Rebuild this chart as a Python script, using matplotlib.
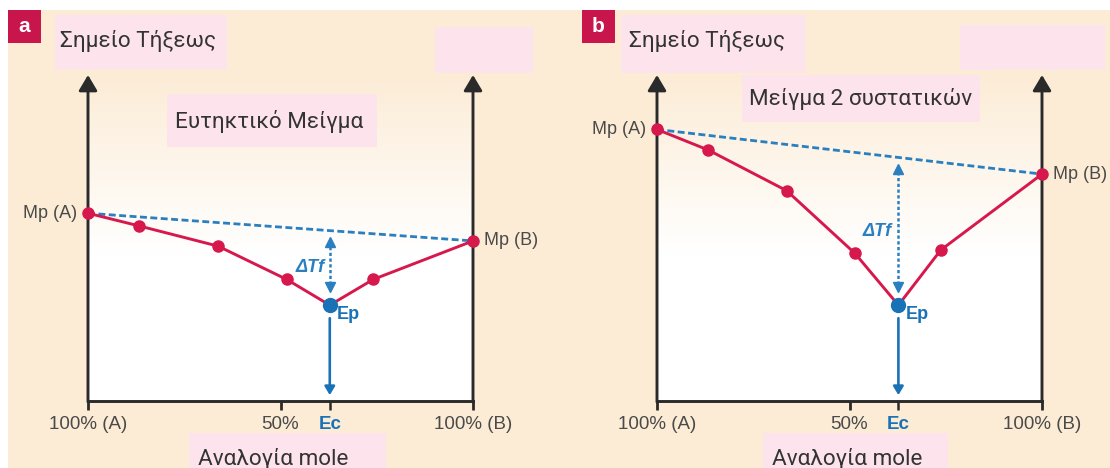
import matplotlib
matplotlib.use("Agg")
import matplotlib.pyplot as plt
from matplotlib.patches import Rectangle
import numpy as np

# ---- data ----------------------------------------------------------------
# composition (% of B) and melting point (arbitrary units, 0-100 axis)
comp_a = [0, 13.3, 33.8, 51.6, 62.8, 74.1, 100]
mp_a = [57.6, 53.7, 47.5, 37.3, 29.4, 37.3, 49.1]
ec_a = 62.8

comp_b = [0, 13.3, 33.7, 51.4, 62.7, 73.7, 100]
mp_b = [83.3, 77.0, 64.5, 45.3, 29.4, 46.3, 69.6]
ec_b = 62.7

tick_labels = ["100% (A)", "50%", "Ec", "100% (B)"]
title_y = "Σημείο Τήξεως"
title_x = "Αναλογία mole"
subtitle_a = "Ευτηκτικό Μείγμα"
subtitle_b = "Μείγμα 2 συστατικών"

# ---- style ---------------------------------------------------------------
W, H = 1110, 468
BEIGE = (252 / 255, 236 / 255, 214 / 255)
PINK = "#fde4ec"
RED = "#d6184d"
BLUE = "#1a72b6"
DASH_BLUE = "#2a7fc0"
AXIS = "#2a2a2a"
GRAY = "#4a4a4a"
TXT = "#333333"
GREEK_FONT = ["Roboto", "DejaVu Sans"]
LABEL_FONT = ["Liberation Sans", "DejaVu Sans"]

fig = plt.figure(figsize=(W / 100, H / 100), dpi=100)
fig.patch.set_facecolor("white")


def fx(x):
    return x / W


def fy(y):
    return 1 - y / H


def box(x0, y0, x1, y1, color, z=1):
    fig.patches.append(Rectangle((fx(x0), fy(y1)), (x1 - x0) / W, (y1 - y0) / H,
                                 transform=fig.transFigure, facecolor=color,
                                 edgecolor="none", zorder=z))


def ftext(x, y, s, **kw):
    fig.text(fx(x), fy(y), s, zorder=3, **kw)


# beige page background
box(8, 10, W, H, BEIGE, z=-1)


def panel(left, comp, mp, ec, letter, letter_x, boxes, sub_text, sub_xy,
          xlab_box, xlab_xy, dtf_dx):
    # decorative label boxes
    for b in boxes:
        box(*b, PINK, z=1)
    box(letter_x, 10, letter_x + 33, 43, "#c8154b", z=1)
    ftext(letter_x + 16.5, 27, letter, ha="center", va="center",
          color="white", fontsize=15, fontweight="bold", family=LABEL_FONT)
    ftext(left - 28, 47, title_y, ha="left", va="baseline", color=TXT,
          fontsize=16.2, family=GREEK_FONT)
    ftext(sub_xy[0], sub_xy[1], sub_text, ha="left", va="baseline", color=TXT,
          fontsize=16.2, family=GREEK_FONT)
    box(*xlab_box, PINK, z=1)
    ftext(xlab_xy[0], xlab_xy[1], title_x, ha="left", va="baseline",
          color=TXT, fontsize=16.2, family=GREEK_FONT)

    ax = fig.add_axes([fx(left), fy(401), 385 / W, 326 / H])
    ax.set_xlim(0, 100)
    ax.set_ylim(0, 100)
    ax.patch.set_visible(False)
    for s in ax.spines.values():
        s.set_visible(False)

    # soft gradient inside the plotting area
    t = np.linspace(0, 1, 256)
    f = np.clip((t - 0.45) / 0.55, 0, 1)
    grad = np.ones((256, 1, 3))
    for c in range(3):
        grad[:, 0, c] = 1 + (BEIGE[c] - 1) * f
    ax.imshow(grad, extent=(0, 100, 0, 100), origin="lower", aspect="auto",
              zorder=0, interpolation="bilinear")

    # axes with arrow heads
    arrow_kw = dict(arrowstyle="-|>,head_length=0.94,head_width=0.56",
                    mutation_scale=10, color=AXIS, lw=2.1,
                    shrinkA=0, shrinkB=0)
    for xv in (0, 100):
        ax.annotate("", xy=(xv, 100), xytext=(xv, -0.3), arrowprops=arrow_kw,
                    annotation_clip=False)
    ax.plot([0, 100], [0, 0], color=AXIS, lw=2.1, clip_on=False,
            solid_capstyle="projecting", zorder=3)

    # x ticks
    ax.set_yticks([])
    ax.set_xticks([0, 50, ec, 100])
    ax.set_xticklabels(tick_labels, family=LABEL_FONT, fontsize=13.5)
    ax.tick_params(axis="x", length=6.5, width=2.0, color=AXIS,
                   labelcolor=GRAY, pad=4.5)
    ticks = ax.xaxis.get_major_ticks()
    ticks[2].tick1line.set_color(BLUE)
    ticks[2].tick1line.set_markeredgewidth(1.8)
    lbl = ax.get_xticklabels()[2]
    lbl.set_color(BLUE)
    lbl.set_fontweight("bold")

    # ideal (linear) line between pure melting points
    ax.plot([0, 100], [mp[0], mp[-1]], color=DASH_BLUE, lw=2.0,
            dashes=(2.5, 1.25), zorder=2, clip_on=False)

    # melting point curve
    ax.plot(comp, mp, color=RED, lw=2.1, marker="o", ms=8, zorder=3,
            clip_on=False)
    i_ep = comp.index(ec)
    ep = mp[i_ep]
    ax.plot([ec], [ep], marker="o", ms=10, color=BLUE, zorder=5,
            clip_on=False)

    # ΔTf double arrow
    ideal = mp[0] + (mp[-1] - mp[0]) * ec / 100
    top = ideal - 8 / 3.26
    bot = ep + 15 / 3.26
    ax.plot([ec, ec], [bot, top], color=DASH_BLUE, lw=1.8,
            dashes=(1.3, 1.0), zorder=2)
    ax.plot([ec], [top - 1.0], marker="^", ms=6.5, color=DASH_BLUE, zorder=2)
    ax.plot([ec], [bot + 1.0], marker="v", ms=6.5, color=DASH_BLUE, zorder=2)
    ax.annotate("ΔTf", xy=(ec, (ideal + ep) / 2), xytext=(dtf_dx, 0),
                textcoords="offset pixels", ha="right", va="center",
                color=DASH_BLUE, fontsize=13, fontweight="bold",
                fontstyle="italic", family=LABEL_FONT)

    # eutectic composition arrow
    ax.annotate("", xy=(ec, 1.8), xytext=(ec, ep - 4),
                arrowprops=dict(arrowstyle="-|>,head_length=0.5,head_width=0.3",
                                mutation_scale=10, color=BLUE, lw=1.9,
                                shrinkA=0, shrinkB=0))
    ax.annotate("Ep", xy=(ec, ep), xytext=(7, -9), textcoords="offset pixels",
                ha="left", va="center", color=BLUE, fontsize=13,
                fontweight="bold", family=LABEL_FONT)

    # pure component labels
    ax.annotate("Mp (A)", xy=(0, mp[0]), xytext=(-11, 0),
                textcoords="offset pixels", ha="right", va="center",
                color=GRAY, fontsize=13, family=LABEL_FONT,
                annotation_clip=False)
    ax.annotate("Mp (B)", xy=(100, mp[-1]), xytext=(11, 0),
                textcoords="offset pixels", ha="left", va="center",
                color=GRAY, fontsize=13, family=LABEL_FONT,
                annotation_clip=False)
    return ax


panel(88, comp_a, mp_a, ec_a, "a", 8,
      boxes=[(55, 15, 227, 70), (167, 94, 377, 147), (435, 27, 533, 73)],
      sub_text=subtitle_a, sub_xy=(175, 128),
      xlab_box=(189, 433, 386, 468), xlab_xy=(198, 465), dtf_dx=-5)

panel(657, comp_b, mp_b, ec_b, "b", 582,
      boxes=[(621, 15, 806, 73), (742, 75, 980, 122), (960, 25, 1105, 70)],
      sub_text=subtitle_b, sub_xy=(749, 105),
      xlab_box=(763, 433, 948, 468), xlab_xy=(772, 465), dtf_dx=-7)

fig.savefig("out.png", dpi=100)
